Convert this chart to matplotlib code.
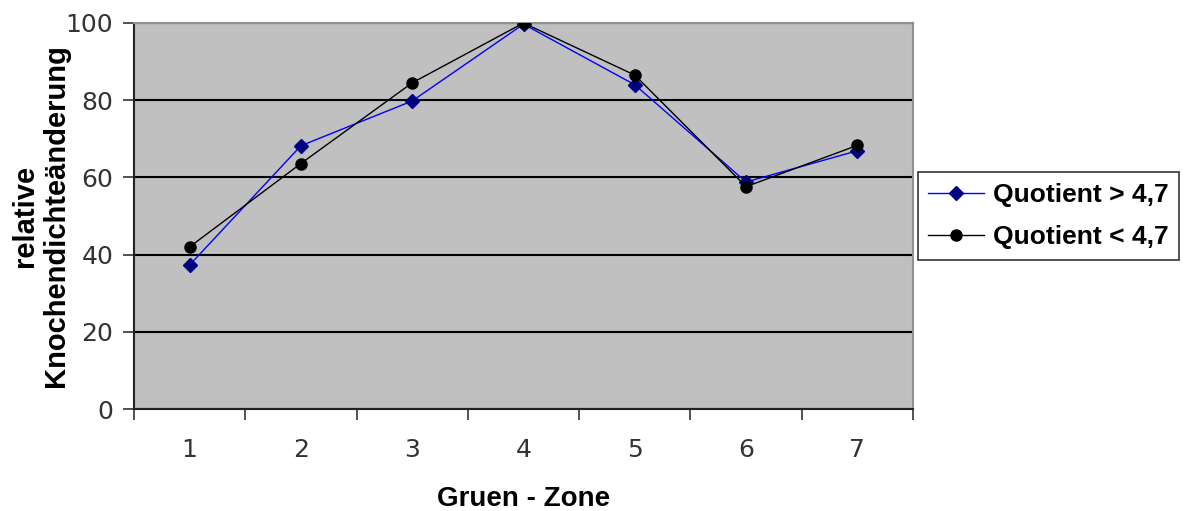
import matplotlib.pyplot as plt
import numpy as np

plt.rcParams['font.family'] = ['Liberation Sans', 'DejaVu Sans']

# Knochendichte je Gruen-Zone
zones = ['1', '2', '3', '4', '5', '6', '7']
quot_gt = [37.3, 68.2, 79.8, 99.7, 84.0, 58.8, 66.9]
quot_lt = [42.0, 63.6, 84.5, 100.0, 86.5, 57.6, 68.3]

fig = plt.figure(figsize=(11.91, 5.11), dpi=100)
ax = fig.add_axes([0.1125, 0.1996, 0.6541, 0.7554])
ax.set_facecolor('#C0C0C0')

x = np.arange(1, len(zones) + 1)
ax.plot(x, quot_gt, color='#0000FF', lw=1.0, marker='D', ms=7,
        mfc='#000080', mec='#000080', label='Quotient > 4,7', zorder=3)
ax.plot(x, quot_lt, color='black', lw=1.0, marker='o', ms=8,
        mfc='black', mec='black', label='Quotient < 4,7', zorder=4)

# y-Achse mit schwarzen Gitterlinien
ax.set_ylim(0, 100)
ax.set_yticks(range(0, 101, 20))
ax.grid(axis='y', color='black', lw=1.5)
ax.set_axisbelow(True)
ax.tick_params(axis='y', direction='out', length=8, width=1.2,
               pad=7, colors='#333333', labelcolor='#333333',
               labelsize=18, labelfontfamily='DejaVu Sans')

# x-Achse: Striche zwischen den Kategorien, Beschriftung in der Mitte
ax.set_xlim(0.5, len(zones) + 0.5)
ax.set_xticks(np.arange(0.5, len(zones) + 1, 1.0))
ax.set_xticklabels([])
ax.set_xticks(x, minor=True)
ax.set_xticklabels(zones, minor=True)
ax.tick_params(axis='x', which='major', direction='out', length=8, width=1.2,
               color='#333333')
ax.tick_params(axis='x', which='minor', length=0, pad=21,
               labelcolor='#333333', labelsize=18,
               labelfontfamily='DejaVu Sans')

for side in ['left', 'bottom']:
    ax.spines[side].set_color('#222222')
    ax.spines[side].set_linewidth(1.5)
for side in ['top', 'right']:
    ax.spines[side].set_color('#909090')
    ax.spines[side].set_linewidth(1.5)

ax.set_xlabel('Gruen - Zone', fontsize=20, fontweight='bold', labelpad=17)
ax.set_ylabel('relative\nKnochendichteänderung', fontsize=21,
              fontweight='bold', labelpad=-3, linespacing=1.1)

leg = ax.legend(loc='center left', bbox_to_anchor=(1.006, 0.5),
                prop={'weight': 'bold', 'size': 19},
                frameon=True, fancybox=False, edgecolor='black',
                borderpad=0.4, handlelength=2.1, handletextpad=0.35,
                labelspacing=0.7, borderaxespad=0.0)
leg.get_frame().set_linewidth(1.2)

fig.savefig('out.png', dpi=100, facecolor='white')
